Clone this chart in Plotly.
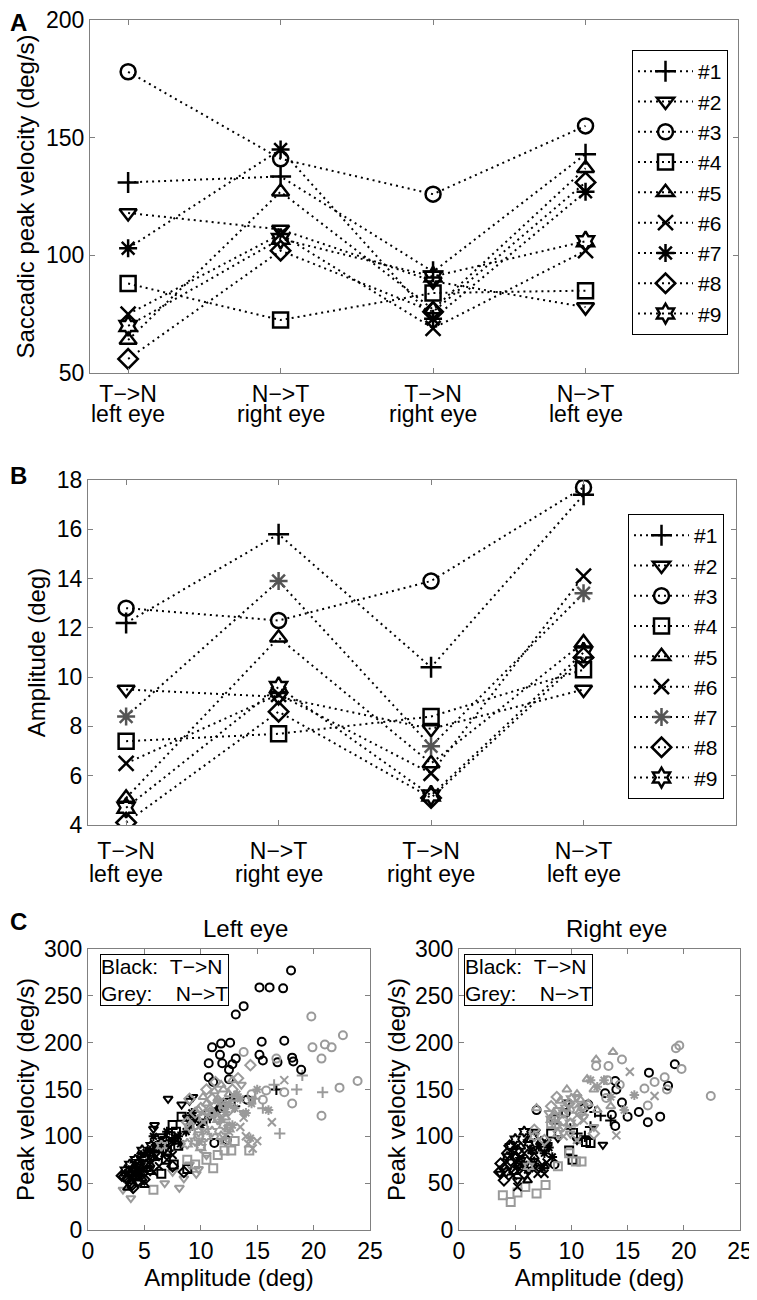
import plotly.graph_objects as go

# ---- panels A / B: per-subject means for the four saccade conditions
cats = [1, 2, 3, 4]
cond_labels = ["T\u2212>N", "N\u2212>T", "T\u2212>N", "N\u2212>T"]
eye_labels = ["left eye", "right eye", "right eye", "left eye"]
subjects = ["#1", "#2", "#3", "#4", "#5", "#6", "#7", "#8", "#9"]
symbols = ["cross-thin-open", "triangle-down-open", "circle-open", "square-open",
           "triangle-up-open", "x-thin-open", "asterisk-open", "diamond-open", "hexagram-open"]

# peak velocity (deg/s), subjects #1..#9
vel_tn_left = [131, 118, 178, 88, 64, 75, 103, 56, 70]
vel_nt_right = [133.5, 111, 141, 72.5, 127, 109, 145, 102, 107]
vel_tn_right = [93, 89, 126, 84, 77, 69, 73, 76, 91]
vel_nt_left = [143, 78, 155, 85, 137, 102, 127, 131, 106]

# amplitude (deg), subjects #1..#9
amp_tn_left = [12.2, 9.5, 12.8, 7.4, 5.1, 6.5, 8.4, 4.1, 4.7]
amp_nt_right = [15.8, 9.2, 12.3, 7.7, 11.6, 9.3, 13.9, 8.6, 9.6]
amp_tn_right = [10.4, 7.9, 13.9, 8.4, 6.5, 6.1, 7.2, 5.1, 5.2]
amp_nt_left = [17.4, 9.5, 17.7, 10.3, 11.4, 14.1, 13.4, 10.8, 11.0]

# ---- panel C: single saccades, grouped by subject (subject, count)
left_tn_counts = [(3, 30), (1, 8), (2, 10), (4, 12), (5, 15), (6, 13), (7, 13), (8, 14), (9, 14)]
left_tn_amp = [18.0, 15.2, 16.1, 17.3, 13.1, 13.8, 11.0, 11.8, 12.6, 15.4, 17.4, 11.7, 15.2, 15.5, 16.8,
               18.1, 18.2, 18.9, 10.7, 11.9, 12.8, 13.1, 12.5, 10.7, 11.1, 12.5, 14.1, 12.3, 11.2, 11.7,
               16.7, 11.5, 12.0, 10.8, 12.6, 11.2, 13.0, 10.5,
               7.1, 8.3, 9.3, 5.8, 5.9, 9.0, 6.5, 8.8, 10.5, 7.6,
               8.3, 7.5, 7.3, 6.8, 7.8, 6.2, 6.9, 7.6, 8.0, 6.5, 7.0, 8.8,
               5.9, 4.1, 5.0, 4.5, 5.5, 6.2, 4.8, 5.2, 3.8, 4.4, 3.5, 4.0, 5.6, 4.7, 3.3,
               6.0, 6.8, 5.5, 7.2, 6.3, 7.0, 5.8, 6.6, 7.5, 4.5, 5.2, 6.0, 3.9,
               8.0, 7.5, 9.0, 8.7, 6.0, 5.5, 9.5, 8.2, 10.0, 6.5, 7.0, 5.8, 9.2,
               3.5, 3.8, 4.2, 4.5, 3.2, 4.0, 4.8, 7.5, 8.5, 3.6, 3.0, 3.9, 4.4, 5.0,
               4.0, 4.5, 5.0, 3.8, 4.8, 5.2, 4.3, 5.6, 4.6, 3.3, 4.2, 5.4, 6.1, 3.7]
left_tn_vel = [277, 259, 259, 258, 230, 239, 195, 199, 200, 201, 202, 187, 187, 181, 179,
               184, 180, 171, 178, 178, 177, 183, 171, 163, 158, 161, 139, 96, 93, 130,
               150, 128, 135, 120, 140, 125, 132, 118,
               140, 134, 142, 108, 112, 138, 100, 120, 125, 96,
               121, 112, 100, 95, 105, 80, 75, 70, 90, 60, 85, 65,
               77, 68, 48, 60, 70, 85, 55, 65, 52, 72, 45, 56, 62, 80, 60,
               78, 82, 70, 88, 68, 75, 62, 90, 80, 66, 82, 90, 64,
               100, 95, 110, 105, 90, 85, 118, 92, 112, 95, 105, 100, 125,
               55, 50, 58, 62, 57, 45, 60, 68, 62, 62, 58, 48, 52, 54,
               65, 72, 78, 60, 85, 70, 58, 90, 68, 64, 75, 82, 88, 70]

left_nt_counts = [(3, 17), (1, 7), (2, 15), (4, 12), (5, 15), (6, 10), (7, 13), (8, 15), (9, 14)]
left_nt_amp = [19.8, 19.9, 21.0, 21.6, 22.6, 20.7, 23.9, 22.3, 20.7, 18.1, 17.4, 16.7, 13.8, 15.8, 15.5,
               12.0, 14.5,
               20.8, 17.0, 16.5, 18.5, 14.8, 15.5, 19.0,
               3.8, 3.1, 6.8, 8.1, 9.6, 9.8, 13.6, 14.5, 11.0, 12.5, 10.5, 9.0, 8.5, 13.8, 7.5,
               5.8, 11.1, 12.1, 12.7, 14.3, 9.5, 10.5, 10.0, 11.5, 8.8, 13.0, 9.8,
               11.5, 12.0, 10.8, 12.5, 11.0, 10.5, 13.0, 12.2, 9.8, 12.8, 10.2, 11.8, 9.5, 12.0, 11.2,
               14.6, 16.3, 14.0, 13.5, 15.0, 12.5, 14.2, 13.8, 12.0, 17.4,
               16.0, 14.4, 13.0, 12.5, 13.5, 14.0, 11.8, 13.2, 12.8, 15.0, 12.2, 14.5, 11.5,
               14.4, 13.3, 10.5, 11.0, 10.0, 11.5, 9.5, 12.0, 10.2, 12.5, 8.8, 9.0, 11.3, 12.8, 10.8,
               11.0, 10.5, 12.0, 9.5, 11.5, 10.0, 12.5, 8.8, 6.5, 9.0, 10.2, 11.8, 9.8, 12.2]
left_nt_vel = [228, 195, 198, 195, 208, 183, 159, 152, 122, 135, 147, 183, 190, 149, 139,
               130, 145,
               147, 103, 155, 150, 140, 130, 165,
               34, 43, 50, 45, 60, 65, 155, 140, 125, 110, 80, 70, 55, 125, 62,
               43, 66, 85, 85, 85, 70, 75, 90, 80, 75, 95, 100,
               140, 150, 130, 145, 125, 135, 140, 120, 128, 160, 142, 155, 118, 132, 148,
               87, 115, 100, 110, 95, 105, 92, 120, 98, 160,
               128, 98, 130, 135, 140, 125, 118, 145, 112, 150, 126, 135, 138,
               176, 162, 150, 140, 130, 120, 125, 135, 110, 128, 115, 140, 158, 150, 125,
               105, 100, 112, 95, 118, 88, 108, 92, 90, 110, 120, 100, 105, 95]

right_tn_counts = [(3, 18), (2, 8), (4, 7), (1, 7), (5, 9), (6, 10), (7, 10), (8, 11), (9, 10)]
right_tn_amp = [19.2, 16.9, 18.6, 13.9, 14.0, 14.5, 13.0, 11.5, 11.1, 16.0, 15.0, 16.8, 17.9, 13.9, 13.6,
                6.9, 9.5, 8.5,
                12.8, 9.6, 6.8, 8.8, 10.5, 5.2, 6.1, 3.7,
                8.5, 10.1, 9.8, 11.7, 11.3, 8.2, 7.6,
                12.6, 10.5, 11.7, 9.9, 13.5, 11.2, 12.1,
                6.1, 6.7, 7.6, 5.5, 7.0, 6.1, 5.0, 6.6, 7.3,
                5.2, 7.0, 6.4, 7.6, 5.8, 5.2, 4.8, 6.8, 7.8, 5.5,
                7.6, 6.7, 7.9, 7.1, 6.1, 8.3, 6.4, 7.4, 8.0, 5.8,
                3.6, 4.0, 4.6, 5.2, 4.3, 3.7, 4.9, 4.0, 5.0, 4.5, 5.8,
                5.0, 5.8, 4.6, 4.3, 6.2, 5.5, 4.8, 5.3, 6.6, 4.2]
right_tn_vel = [177, 168, 154, 159, 150, 136, 146, 134, 130, 126, 121, 115, 121, 111, 123,
                128, 125, 70,
                91, 136, 105, 98, 96, 53, 64, 60,
                118, 75, 85, 93, 94, 103, 89,
                122, 103, 110, 108, 117, 100, 126,
                53, 78, 68, 89, 71, 96, 62, 84, 95,
                68, 60, 74, 60, 82, 46, 58, 66, 72, 76,
                82, 71, 93, 89, 64, 78, 85, 66, 88, 70,
                62, 53, 74, 85, 82, 71, 64, 66, 78, 90, 60,
                97, 105, 89, 78, 93, 74, 84, 70, 100, 62]

right_nt_counts = [(3, 15), (5, 12), (2, 7), (4, 11), (6, 6), (7, 6), (8, 10), (9, 11)]
right_nt_amp = [19.3, 19.6, 19.8, 22.4, 18.5, 18.3, 17.4, 16.5, 16.8, 14.5, 13.3, 12.2, 13.2, 13.1, 14.3,
                13.7, 12.2, 11.4, 9.6, 12.0, 10.8, 12.3, 13.5, 6.9, 10.5, 11.5, 9.0,
                8.8, 8.0, 10.5, 11.1, 9.3, 9.9, 12.0,
                3.9, 4.6, 5.2, 5.9, 6.9, 7.7, 10.9, 10.4, 8.8, 9.8, 8.2,
                15.2, 14.0, 17.4, 10.5, 11.1, 9.3,
                15.6, 12.3, 13.5, 14.7, 11.7, 12.9,
                8.7, 8.2, 9.3, 10.5, 6.7, 7.6, 12.0, 9.8, 10.8, 8.5,
                6.2, 6.7, 8.2, 9.3, 10.5, 9.9, 8.8, 10.0, 11.0, 9.5, 8.6]
right_nt_vel = [194, 197, 172, 143, 150, 163, 158, 151, 133, 182, 175, 175, 160, 141, 155,
                190, 182, 161, 150, 150, 139, 128, 132, 130, 145, 135, 138,
                128, 125, 142, 121, 110, 103, 110,
                37, 30, 40, 46, 39, 48, 73, 73, 68, 82, 114,
                169, 101, 143, 96, 117, 100,
                144, 153, 142, 128, 160, 160,
                142, 132, 117, 117, 107, 96, 103, 135, 125, 120,
                68, 100, 118, 125, 128, 114, 103, 140, 132, 130, 112]


def expand(counts):
    out = []
    for s, n in counts:
        out += [s] * n
    return out


left_tn_subj = expand(left_tn_counts)
left_nt_subj = expand(left_nt_counts)
right_tn_subj = expand(right_tn_counts)
right_nt_subj = expand(right_nt_counts)

FONT = "Liberation Sans, Arial, sans-serif"
# the page body adds an 8px margin, so the figure is sized to fill the rest of the window
OFF = 8
W, H = 757 - OFF, 1300 - OFF
GREY_AX = "#808080"
FS = 23


def px_x(p):
    return (p - OFF) / W


def px_y(p):
    return 1 - (p - OFF) / H


fig = go.Figure()

# panels A and B
for i, name in enumerate(subjects):
    for panel, vals, yax, leg in [
        ("A", [vel_tn_left[i], vel_nt_right[i], vel_tn_right[i], vel_nt_left[i]], "y", "legend"),
        ("B", [amp_tn_left[i], amp_nt_right[i], amp_tn_right[i], amp_nt_left[i]], "y2", "legend2"),
    ]:
        col = "#555555" if (panel == "B" and i == 6) else "black"
        fig.add_trace(go.Scatter(
            x=cats, y=vals, name=name, mode="lines+markers",
            xaxis="x" if panel == "A" else "x2", yaxis=yax, legend=leg,
            line=dict(color="black", width=2, dash="2px,4px"),
            marker=dict(symbol=symbols[i], size=15, color=col, line=dict(color=col, width=2.5)),
        ))

# panel C scatter, drawn subject by subject: black T->N then grey N->T
for s in range(1, 10):
    for amps, vels, subj, col, xa, ya in [
        (left_tn_amp, left_tn_vel, left_tn_subj, "black", "x3", "y3"),
        (left_nt_amp, left_nt_vel, left_nt_subj, "#9a9a9a", "x3", "y3"),
        (right_tn_amp, right_tn_vel, right_tn_subj, "black", "x4", "y4"),
        (right_nt_amp, right_nt_vel, right_nt_subj, "#9a9a9a", "x4", "y4"),
    ]:
        xs = [a for a, k in zip(amps, subj) if k == s]
        ys = [v for v, k in zip(vels, subj) if k == s]
        fig.add_trace(go.Scatter(
            x=xs, y=ys, mode="markers", showlegend=False, xaxis=xa, yaxis=ya,
            marker=dict(symbol=symbols[s - 1], size=8, color=col, line=dict(color=col, width=2)),
        ))

axis_style = dict(showline=True, linecolor=GREY_AX, linewidth=1, mirror="ticks", automargin=False,
                  ticks="inside", ticklen=5, tickcolor=GREY_AX, showgrid=False, zeroline=False,
                  ticklabeloverflow="allow",
                  tickfont=dict(size=FS, color="black", family=FONT))
title_font = dict(size=24, color="black", family=FONT)

fig.update_layout(
    width=W, height=H,
    margin=dict(l=0, r=0, t=0, b=0),
    paper_bgcolor="white", plot_bgcolor="white",
    font=dict(family=FONT, size=FS, color="black"),
    xaxis=dict(axis_style, domain=[px_x(90), px_x(738)], range=[0.75, 5], anchor="y",
               tickvals=cats, ticktext=cond_labels, ticklabelstandoff=0),
    yaxis=dict(axis_style, domain=[px_y(373), px_y(20)], range=[50, 200], anchor="x",
               dtick=50, title=dict(text="Saccadic peak velocity (deg/s)", standoff=4, font=title_font)),
    xaxis2=dict(axis_style, domain=[px_x(88), px_x(736)], range=[0.75, 5], anchor="y2",
                tickvals=cats, ticktext=cond_labels, ticklabelstandoff=5),
    yaxis2=dict(axis_style, domain=[px_y(825), px_y(480)], range=[4, 18], anchor="x2",
                dtick=2, title=dict(text="Amplitude (deg)", standoff=4, font=title_font)),
    xaxis3=dict(axis_style, domain=[px_x(88), px_x(370)], range=[0, 25], anchor="y3", dtick=5,
                title=dict(text="Amplitude (deg)", standoff=6, font=title_font)),
    yaxis3=dict(axis_style, domain=[px_y(1230), px_y(949)], range=[0, 300], anchor="x3", dtick=50,
                title=dict(text="Peak velocity (deg/s)", standoff=2, font=title_font)),
    xaxis4=dict(axis_style, domain=[px_x(459), px_x(740)], range=[0, 25], anchor="y4", dtick=5,
                title=dict(text="Amplitude (deg)", standoff=6, font=title_font)),
    yaxis4=dict(axis_style, domain=[px_y(1230), px_y(949)], range=[0, 300], anchor="x4", dtick=50,
                title=dict(text="Peak velocity (deg/s)", standoff=2, font=title_font)),
    legend=dict(x=px_x(632), y=px_y(50), xanchor="left", yanchor="top",
                bordercolor="black", borderwidth=1, bgcolor="white",
                font=dict(size=21), itemwidth=55, tracegroupgap=0),
    legend2=dict(x=px_x(628), y=px_y(514), xanchor="left", yanchor="top",
                 bordercolor="black", borderwidth=1, bgcolor="white",
                 font=dict(size=21), itemwidth=55, tracegroupgap=0),
)

# second line of the category labels (eye), placed under each category
for xa, ypix in [("x", 414), ("x2", 874)]:
    for c, lab in zip(cats, eye_labels):
        fig.add_annotation(text=lab, xref=xa, yref="paper", x=c, y=px_y(ypix),
                           xanchor="center", yanchor="middle", showarrow=False, font=dict(size=FS))

for letter, ypix in [("A", 22), ("B", 476), ("C", 922)]:
    fig.add_annotation(text="<b>%s</b>" % letter, xref="paper", yref="paper", x=px_x(8), y=px_y(ypix),
                       xanchor="left", yanchor="middle", showarrow=False, font=dict(size=24))

for title, xpix in [("Left eye", 245), ("Right eye", 616)]:
    fig.add_annotation(text=title, xref="paper", yref="paper", x=px_x(xpix), y=px_y(928),
                       xanchor="center", yanchor="middle", showarrow=False, font=dict(size=24))

key_text = "Black:\u00a0\u00a0T\u2212>N<br>Grey:\u00a0\u00a0\u00a0\u00a0N\u2212>T"
for x0 in [100, 464]:
    fig.add_annotation(text=key_text, xref="paper", yref="paper", x=px_x(x0), y=px_y(954),
                       xanchor="left", yanchor="top", align="left", showarrow=False,
                       bordercolor="black", borderwidth=1, borderpad=0, bgcolor="white",
                       font=dict(size=21))

fig.write_html("out.html")
